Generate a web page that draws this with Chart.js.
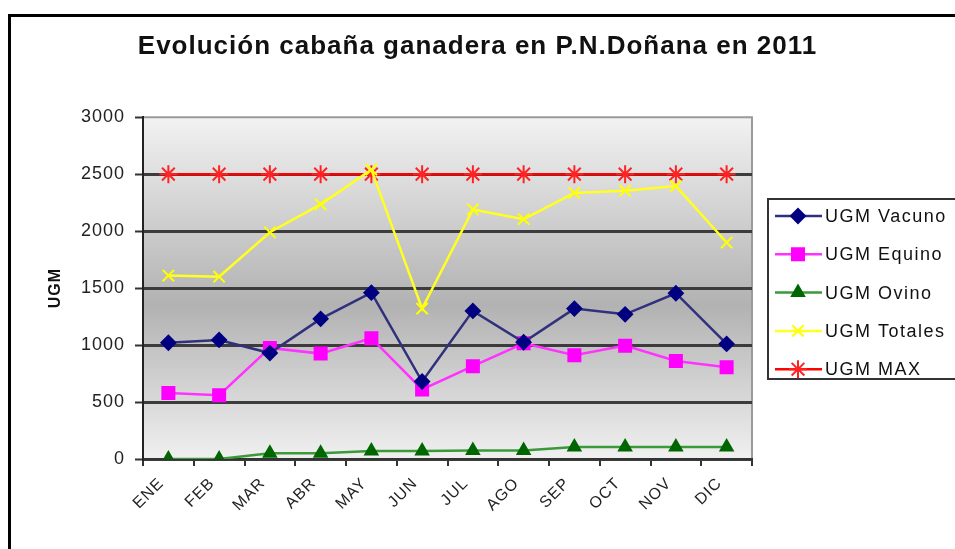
<!DOCTYPE html>
<html>
<head>
<meta charset="utf-8">
<script src="https://cdn.jsdelivr.net/npm/chart.js@4/dist/chart.umd.min.js"></script>
<style>
  html, body { margin: 0; padding: 0; background: #fff; }
  #wrap { width: 955px; height: 549px; }
</style>
</head>
<body>
<div id="wrap"><canvas id="chart" width="955" height="549"></canvas></div>
<script>
// datos
const meses = ['ENE', 'FEB', 'MAR', 'ABR', 'MAY', 'JUN', 'JUL', 'AGO', 'SEP', 'OCT', 'NOV', 'DIC'];
const ugmVacuno = [1020, 1045, 930, 1230, 1460, 680, 1300, 1025, 1320, 1270, 1455, 1010];
const ugmEquino = [580, 560, 975, 925, 1060, 610, 815, 1015, 910, 995, 860, 805];
const ugmOvino = [0, 0, 50, 50, 70, 70, 75, 75, 105, 105, 105, 105];
const ugmTotales = [1610, 1600, 1990, 2235, 2540, 1320, 2190, 2105, 2335, 2355, 2395, 1900];
const ugmMax = [2500, 2500, 2500, 2500, 2500, 2500, 2500, 2500, 2500, 2500, 2500, 2500];
const yTicks = [0, 500, 1000, 1500, 2000, 2500, 3000];

const FONT = "'Liberation Sans', Arial, sans-serif";

// hueco a la derecha para la leyenda (así el título queda centrado en todo el ancho)
const huecoLeyenda = {
  position: 'right', weight: 10, fullSize: false,
  options: {},
  isHorizontal() { return false; },
  update(maxWidth, maxHeight) { this.width = 203; this.height = maxHeight; },
  getPadding() { return { left: 0, right: 0, top: 0, bottom: 0 }; },
  draw() {}
};

// fondo degradado del área de trazado + marco exterior
const fondoPlugin = {
  id: 'fondo',
  beforeInit(chart) {
    Chart.layouts.addBox(chart, huecoLeyenda);
  },
  beforeDraw(chart) {
    const { ctx, chartArea: a } = chart;
    ctx.letterSpacing = '1px';
    ctx.save();
    const g = ctx.createLinearGradient(0, a.top, 0, a.bottom);
    g.addColorStop(0, '#f2f2f2');
    g.addColorStop(0.55, '#b2b2b2');
    g.addColorStop(1, '#f0f0f0');
    ctx.fillStyle = g;
    ctx.fillRect(a.left, a.top, a.right - a.left, a.bottom - a.top);
    ctx.strokeStyle = '#9a9a9a';
    ctx.lineWidth = 2;
    ctx.beginPath();
    ctx.moveTo(a.left, a.top);
    ctx.lineTo(a.right, a.top);
    ctx.lineTo(a.right, a.bottom);
    ctx.stroke();
    ctx.restore();
  },
  afterDraw(chart) {
    const ctx = chart.ctx;
    ctx.save();
    ctx.strokeStyle = '#000';
    ctx.lineWidth = 3;
    ctx.beginPath();
    ctx.moveTo(9.5, 549);
    ctx.lineTo(9.5, 15.5);
    ctx.lineTo(955, 15.5);
    ctx.stroke();
    ctx.restore();
  }
};

// leyenda estilo Excel: línea + marcador
const leyendaPlugin = {
  id: 'leyenda',
  afterDraw(chart) {
    const ctx = chart.ctx;
    const x0 = 768, y0 = 199, h = 180;
    ctx.save();
    ctx.fillStyle = '#fff';
    ctx.fillRect(x0, y0, 200, h);
    ctx.strokeStyle = '#333';
    ctx.lineWidth = 2;
    ctx.strokeRect(x0, y0, 200, h);
    chart.data.datasets.forEach((ds, i) => {
      const y = 216 + i * 38.3;
      ctx.strokeStyle = ds.borderColor;
      ctx.lineWidth = ds.borderWidth;
      ctx.beginPath();
      ctx.moveTo(775, y);
      ctx.lineTo(822, y);
      ctx.stroke();
      ctx.fillStyle = ds.pointBackgroundColor;
      ctx.strokeStyle = ds.pointBorderColor;
      ctx.lineWidth = ds.pointBorderWidth;
      Chart.helpers.drawPoint(ctx, {
        pointStyle: ds.pointStyle,
        radius: ds.pointRadius,
        rotation: 0,
        borderWidth: ds.pointBorderWidth
      }, 798, y);
      ctx.fillStyle = '#111';
      ctx.font = '18px ' + FONT;
      ctx.letterSpacing = '1.5px';
      ctx.textBaseline = 'middle';
      ctx.textAlign = 'left';
      ctx.fillText(ds.label, 825, y + 1);
    });
    ctx.restore();
  }
};

function serie(label, data, line, fill, stroke, style, r) {
  return {
    label: label,
    data: data,
    borderColor: line,
    borderWidth: 2.5,
    pointStyle: style,
    pointRadius: r,
    pointHoverRadius: r,
    pointBackgroundColor: fill,
    pointBorderColor: stroke,
    pointBorderWidth: 2,
    tension: 0
  };
}

new Chart(document.getElementById('chart'), {
  type: 'line',
  data: {
    labels: meses,
    datasets: [
      serie('UGM Vacuno', ugmVacuno, '#30307e', '#000080', '#000080', 'rectRot', 7),
      serie('UGM Equino', ugmEquino, '#ff33ff', '#ff00ff', '#ff00ff', 'rect', 8.5),
      serie('UGM Ovino', ugmOvino, '#3a9a3a', '#006600', '#006600', 'triangle', 7),
      serie('UGM Totales', ugmTotales, '#ffff22', '#ffff00', '#ffff00', 'crossRot', 8),
      serie('UGM MAX', ugmMax, '#ff0000', '#ff0000', '#ff2222', 'star', 9)
    ]
  },
  options: {
    responsive: false,
    animation: false,
    layout: { padding: { left: 0, right: 0, top: 0, bottom: 0 } },
    plugins: {
      legend: { display: false },
      tooltip: { enabled: false },
      title: {
        display: true,
        text: 'Evolución cabaña ganadera en P.N.Doñana en 2011',
        color: '#111',
        font: { family: FONT, size: 26, weight: 'bold' },
        padding: { top: 31, bottom: 55 }
      }
    },
    scales: {
      x: {
        offset: true,
        grid: { drawOnChartArea: false, drawTicks: true, tickLength: 7, color: '#333', lineWidth: 2, offset: true },
        border: { color: '#333', width: 2 },
        ticks: {
          color: '#222',
          font: { family: FONT, size: 16 },
          maxRotation: 45, minRotation: 45,
          padding: 8,
          labelOffset: -7,
          autoSkip: false
        },
        afterFit(scale) { scale.height = 90; }
      },
      y: {
        min: 0, max: 3000,
        afterBuildTicks(scale) { scale.ticks = yTicks.map(v => ({ value: v })); },
        grid: {
          color: ctx => ctx.tick && ctx.tick.value === 3000 ? 'rgba(0,0,0,0)' : '#3c3c3c',
          lineWidth: 3,
          tickLength: 8,
          tickColor: '#333',
          tickWidth: 2
        },
        border: { color: '#222', width: 2 },
        ticks: {
          color: '#222',
          font: { family: FONT, size: 18 },
          padding: 10,
          callback: v => String(v)
        },
        title: {
          display: true,
          text: 'UGM',
          color: '#111',
          font: { family: FONT, size: 16, weight: 'bold' },
          padding: { top: 46, bottom: 4 }
        },
        afterFit(scale) { scale.width = 143; }
      }
    }
  },
  plugins: [fondoPlugin, leyendaPlugin]
});
</script>
</body>
</html>
